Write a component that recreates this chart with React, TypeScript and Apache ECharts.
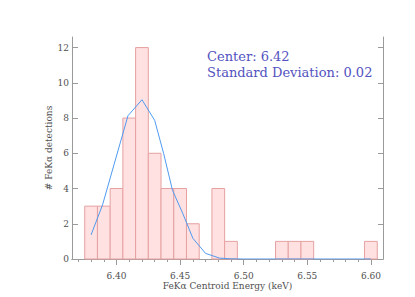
import React, { useEffect, useRef } from "react";
import * as echarts from "echarts";

// Histogram bins (centre energy, keV) and counts
const binCenters = [6.38, 6.39, 6.40, 6.41, 6.42, 6.43, 6.44, 6.45, 6.46, 6.48, 6.49, 6.53, 6.54, 6.55, 6.60];
const binCounts = [3, 3, 4, 8, 12, 6, 4, 4, 2, 4, 1, 1, 1, 1, 1];
const binWidth = 0.01;

// Gaussian fit curve
const fitX = [6.380, 6.389, 6.409, 6.420, 6.430, 6.437, 6.444, 6.452, 6.460, 6.470, 6.481, 6.490, 6.500, 6.530, 6.550, 6.600];
const fitY = [1.37, 3.07, 8.13, 9.04, 7.87, 6.0, 3.9, 2.6, 1.18, 0.32, 0.05, 0.01, 0, 0, 0, 0];

const xMajorTicks = [6.40, 6.45, 6.50, 6.55, 6.60];
const xMinorTicks = [6.37, 6.38, 6.39, 6.40, 6.41, 6.42, 6.43, 6.44, 6.45, 6.46, 6.47, 6.48, 6.49, 6.50, 6.51, 6.52, 6.53, 6.54, 6.55, 6.56, 6.57, 6.58, 6.59, 6.60];
const yTicks = [0, 2, 4, 6, 8, 10, 12];

const xMin = 6.365;
const xMax = 6.6095;
const yMin = 0;
const yMax = 12.6;

const annotationLines = ["Center: 6.42", "Standard Deviation: 0.02"];
const xTitle = "FeKα Centroid Energy (keV)";
const yTitle = "# FeKα detections";

const FONT = "DejaVu Serif";
const AXIS_COLOR = "#9a9a9a";
const LABEL_COLOR = "#505050";

export default function App() {
  const ref = useRef<HTMLDivElement>(null);

  useEffect(() => {
    if (!ref.current) return;
    const chart = echarts.init(ref.current, null, { renderer: "svg" });
    const gridRect = { left: 72, right: 32, top: 37, bottom: 38 };

    const option: any = {
      animation: false,
      backgroundColor: "#ffffff",
      grid: [
        { ...gridRect, containLabel: false },
        { ...gridRect, containLabel: false },
      ],
      xAxis: [
        {
          type: "value",
          gridIndex: 0,
          position: "bottom",
          min: xMin,
          max: xMax,
          name: xTitle,
          nameLocation: "middle",
          nameGap: 22,
          nameMoveOverlap: false,
          nameTextStyle: { fontFamily: FONT, fontSize: 9, color: LABEL_COLOR },
          axisLine: { show: true, lineStyle: { color: AXIS_COLOR, width: 1 } },
          axisTick: {
            show: true,
            inside: false,
            length: 6,
            customValues: xMajorTicks,
            lineStyle: { color: AXIS_COLOR },
          },
          axisLabel: {
            show: true,
            customValues: xMajorTicks,
            margin: 12,
            fontFamily: FONT,
            fontSize: 9,
            color: LABEL_COLOR,
            formatter: (v: number) => v.toFixed(2),
          },
          splitLine: { show: false },
        },
        {
          type: "value",
          gridIndex: 0,
          position: "top",
          min: xMin,
          max: xMax,
          axisLine: { show: true, lineStyle: { color: AXIS_COLOR, width: 1 } },
          axisTick: {
            show: true,
            inside: true,
            length: 5,
            customValues: xMajorTicks,
            lineStyle: { color: AXIS_COLOR },
          },
          axisLabel: { show: false },
          splitLine: { show: false },
        },
        {
          type: "value",
          gridIndex: 1,
          position: "bottom",
          min: xMin,
          max: xMax,
          axisLine: { show: false },
          axisTick: {
            show: true,
            inside: false,
            length: 3,
            customValues: xMinorTicks,
            lineStyle: { color: AXIS_COLOR },
          },
          axisLabel: { show: false },
          splitLine: { show: false },
        },
      ],
      yAxis: [
        {
          type: "value",
          gridIndex: 0,
          position: "left",
          min: yMin,
          max: yMax,
          name: yTitle,
          nameLocation: "middle",
          nameGap: 19,
          nameMoveOverlap: false,
          nameRotate: 90,
          nameTextStyle: { fontFamily: FONT, fontSize: 9, color: LABEL_COLOR },
          axisLine: { show: true, lineStyle: { color: AXIS_COLOR, width: 1 } },
          axisTick: {
            show: true,
            inside: true,
            length: 6,
            customValues: yTicks,
            lineStyle: { color: AXIS_COLOR },
          },
          axisLabel: {
            show: true,
            customValues: yTicks,
            margin: 3,
            fontFamily: FONT,
            fontSize: 9,
            color: LABEL_COLOR,
          },
          splitLine: { show: false },
        },
        {
          type: "value",
          gridIndex: 0,
          position: "right",
          min: yMin,
          max: yMax,
          axisLine: { show: true, lineStyle: { color: AXIS_COLOR, width: 1 } },
          axisTick: {
            show: true,
            inside: true,
            length: 5,
            customValues: yTicks,
            lineStyle: { color: AXIS_COLOR },
          },
          axisLabel: { show: false },
          splitLine: { show: false },
        },
        {
          type: "value",
          gridIndex: 1,
          min: yMin,
          max: yMax,
          show: false,
        },
      ],
      series: [
        {
          type: "custom",
          xAxisIndex: 0,
          yAxisIndex: 0,
          data: binCenters.map((c, i) => [c, binCounts[i]]),
          encode: { x: 0, y: 1 },
          renderItem: (params: any, api: any) => {
            const c = api.value(0);
            const v = api.value(1);
            const p0 = api.coord([c - binWidth / 2, 0]);
            const p1 = api.coord([c + binWidth / 2, v]);
            return {
              type: "rect",
              shape: {
                x: p0[0],
                y: p1[1],
                width: p1[0] - p0[0],
                height: p0[1] - p1[1],
              },
              style: {
                fill: "#ffe1e1",
                stroke: "#e6a1a1",
                lineWidth: 1,
              },
            };
          },
          z: 2,
        },
        {
          type: "line",
          xAxisIndex: 0,
          yAxisIndex: 0,
          data: fitX.map((x, i) => [x, fitY[i]]),
          showSymbol: false,
          symbol: "none",
          smooth: false,
          lineStyle: { color: "#4f9af0", width: 1 },
          z: 3,
        },
      ],
      graphic: [
        {
          type: "text",
          left: 207,
          top: 48,
          style: {
            text: annotationLines.join("\n"),
            font: `13px "${FONT}"`,
            fill: "#5252c0",
            lineHeight: 16,
          },
          z: 10,
        },
      ],
    };

    chart.setOption(option);
    return () => chart.dispose();
  }, []);

  return (
    <div
      ref={ref}
      style={{ position: "fixed", left: 0, top: 0, width: 415, height: 297, background: "#fff" }}
    />
  );
}
